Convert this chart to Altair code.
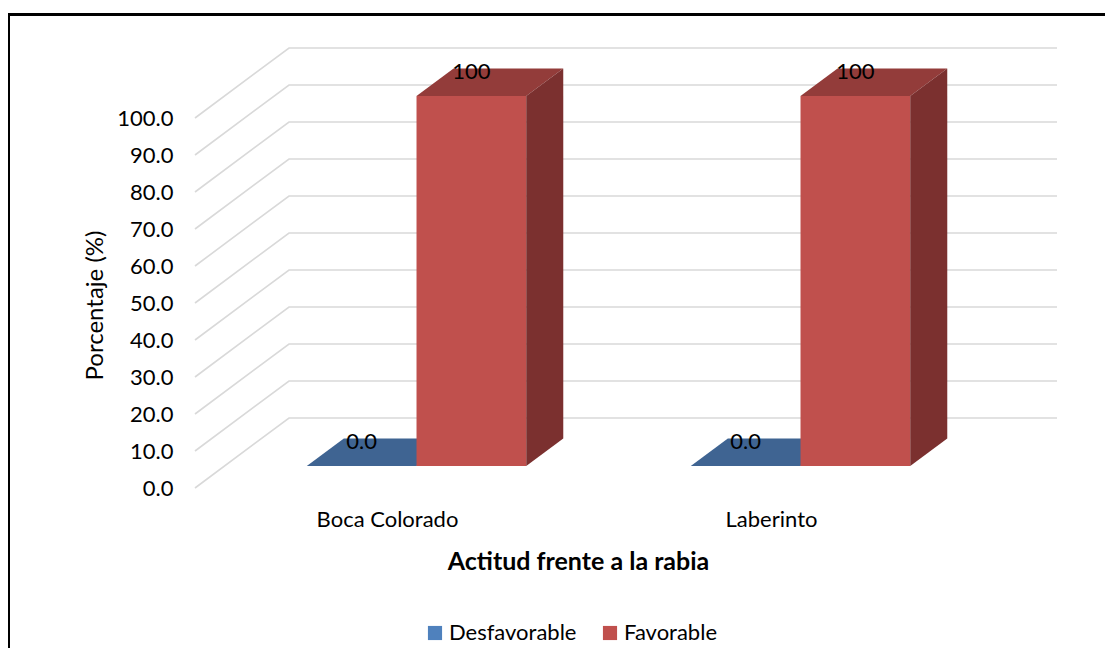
import altair as alt
import pandas as pd

# ---- data ----
categories = ["Boca Colorado", "Laberinto"]
series = ["Desfavorable", "Favorable"]
desfavorable = [0.0, 0.0]
favorable = [100.0, 100.0]
y_ticks = [0, 10, 20, 30, 40, 50, 60, 70, 80, 90, 100]
label_formats = {"Desfavorable": "{:.1f}", "Favorable": "{:.0f}"}

# ---- style / 3D geometry (not data) ----
FONT = "Lato"
FS = 22
legend_colors = {"Desfavorable": "#4F81BD", "Favorable": "#C0504D"}
top_colors = {"Desfavorable": "#3F6492", "Favorable": "#933C3A"}
side_colors = {"Desfavorable": "#2F4B6E", "Favorable": "#7B302F"}
GRID = "#D9D9D9"

CAT_PX = 384.0          # pixel width of a category at the front
PX_PER_UNIT = 3.7       # pixels per percentage point
DEPTH_PX_X = 94.0
DEPTH_PX_Y = 70.0
DX = DEPTH_PX_X / CAT_PX          # depth offset in category units
DY = DEPTH_PX_Y / PX_PER_UNIT     # depth offset in value units
BAR_W = 1 / 3.5
HALF_GAP = 0.75 * BAR_W
D0, D1 = 0.314, 0.708             # bar depth range (fraction of depth)

XMAX = len(categories) + DX
YMAX = max(y_ticks) + DY
W = XMAX * CAT_PX
H = YMAX * PX_PER_UNIT

values = {"Desfavorable": desfavorable, "Favorable": favorable}

front_rows, top_rows, side_rows, label_rows = [], [], [], []
for i, cat in enumerate(categories):
    for j, s in enumerate(series):
        v = values[s][i]
        xl = i + HALF_GAP + j * BAR_W
        xr = xl + BAR_W
        key = f"{cat}-{s}"
        front_rows.append(dict(series=s, x=xl + D0 * DX, x2=xr + D0 * DX,
                               y=D0 * DY, y2=v + D0 * DY))
        for d in (D0, D1):
            top_rows.append(dict(key=key, series=s, fill=top_colors[s],
                                 y=v + d * DY, x=xl + d * DX, x2=xr + d * DX))
            side_rows.append(dict(key=key, series=s, fill=side_colors[s],
                                  x=xr + d * DX, y=d * DY, y2=v + d * DY))
        label_rows.append(dict(x=(xl + xr) / 2 + D0 * DX, y=v + D0 * DY,
                               text=label_formats[s].format(v)))

grid_rows = []
for t in y_ticks:
    for k, (gx, gy) in enumerate([(0, t), (DX, t + DY), (XMAX, t + DY)]):
        grid_rows.append(dict(tick=t, k=k, x=gx, y=gy))

front_df = pd.DataFrame(front_rows)
top_df = pd.DataFrame(top_rows)
side_df = pd.DataFrame(side_rows)
label_df = pd.DataFrame(label_rows)
grid_df = pd.DataFrame(grid_rows)

xscale = alt.Scale(domain=[0, XMAX], nice=False, zero=False)
yscale = alt.Scale(domain=[0, YMAX], nice=False, zero=False)

label_expr = "[" + ",".join(f"'{c}'" for c in categories) + "][floor(datum.value)]"

x_axis = alt.Axis(values=[i + 0.5 for i in range(len(categories))],
                  labelExpr=label_expr, domain=False, ticks=False, grid=False,
                  labelPadding=21, labelFontSize=FS, labelFont=FONT, labelColor="black",
                  title="Actitud frente a la rabia", titleFont=FONT, titleFontSize=25,
                  titleFontWeight="bold", titleColor="black",
                  titleX=383, titleY=73, titleBaseline="middle", titleAlign="center")
y_axis = alt.Axis(values=y_ticks, format=".1f", domain=False, ticks=False, grid=False,
                  labelPadding=22, labelFontSize=FS, labelFont=FONT, labelColor="black",
                  labelBaseline="middle",
                  title="Porcentaje (%)", titleFont=FONT, titleFontSize=24,
                  titleFontWeight="normal", titleColor="black",
                  titleX=-100, titleY=257, titleAngle=-90, titleBaseline="middle",
                  titleAlign="center")

grid = alt.Chart(grid_df).mark_line(color=GRID, strokeWidth=1.6).encode(
    x=alt.X("x:Q", scale=xscale, axis=x_axis),
    y=alt.Y("y:Q", scale=yscale, axis=y_axis),
    detail="tick:N",
    order="k:Q",
)

def top_layer(df):
    return alt.Chart(df).mark_area(orient="horizontal", interpolate="linear").encode(
        y=alt.Y("y:Q", scale=yscale),
        x=alt.X("x:Q", scale=xscale, stack=None),
        x2="x2:Q",
        detail="key:N",
        fill=alt.Fill("fill:N", scale=None),
    )

def side_layer(df):
    return alt.Chart(df).mark_area(orient="vertical", interpolate="linear").encode(
        x=alt.X("x:Q", scale=xscale),
        y=alt.Y("y:Q", scale=yscale, stack=None),
        y2="y2:Q",
        detail="key:N",
        fill=alt.Fill("fill:N", scale=None),
    )

blue_top = top_layer(top_df[top_df.series == "Desfavorable"])
red_top = top_layer(top_df[top_df.series == "Favorable"])
red_side = side_layer(side_df[side_df.series == "Favorable"])

front = alt.Chart(front_df).mark_rect().encode(
    x=alt.X("x:Q", scale=xscale),
    x2="x2:Q",
    y=alt.Y("y:Q", scale=yscale),
    y2="y2:Q",
    color=alt.Color("series:N",
                    scale=alt.Scale(domain=series, range=[legend_colors[s] for s in series]),
                    legend=alt.Legend(title=None, orient="none", direction="horizontal",
                                      legendX=229, legendY=574, symbolType="square",
                                      symbolSize=200, symbolStrokeWidth=0,
                                      labelFont=FONT, labelFontSize=FS, labelColor="black",
                                      columnPadding=22, labelOffset=3, padding=0)),
)

labels = alt.Chart(label_df).mark_text(font=FONT, fontSize=FS, color="black",
                                       dy=-24, baseline="middle").encode(
    x=alt.X("x:Q", scale=xscale),
    y=alt.Y("y:Q", scale=yscale),
    text="text:N",
)

frame_top = alt.Chart().mark_rule(color="black", strokeWidth=3).encode(
    x=alt.value(-190), x2=alt.value(930), y=alt.value(-33.5))
frame_left = alt.Chart().mark_rule(color="black", strokeWidth=3).encode(
    x=alt.value(-186.5), y=alt.value(-35), y2=alt.value(640))

chart = alt.layer(
    grid, blue_top, front, red_top, red_side, labels, frame_top, frame_left
).properties(
    width=W, height=H,
    autosize=alt.AutoSizeParams(type="none"),
    padding={"left": 187, "top": 40, "right": 48, "bottom": 160},
    background="white",
).configure_view(stroke=None, strokeWidth=0)

chart.save("out.html", embed_options={"renderer": "svg", "actions": False})
